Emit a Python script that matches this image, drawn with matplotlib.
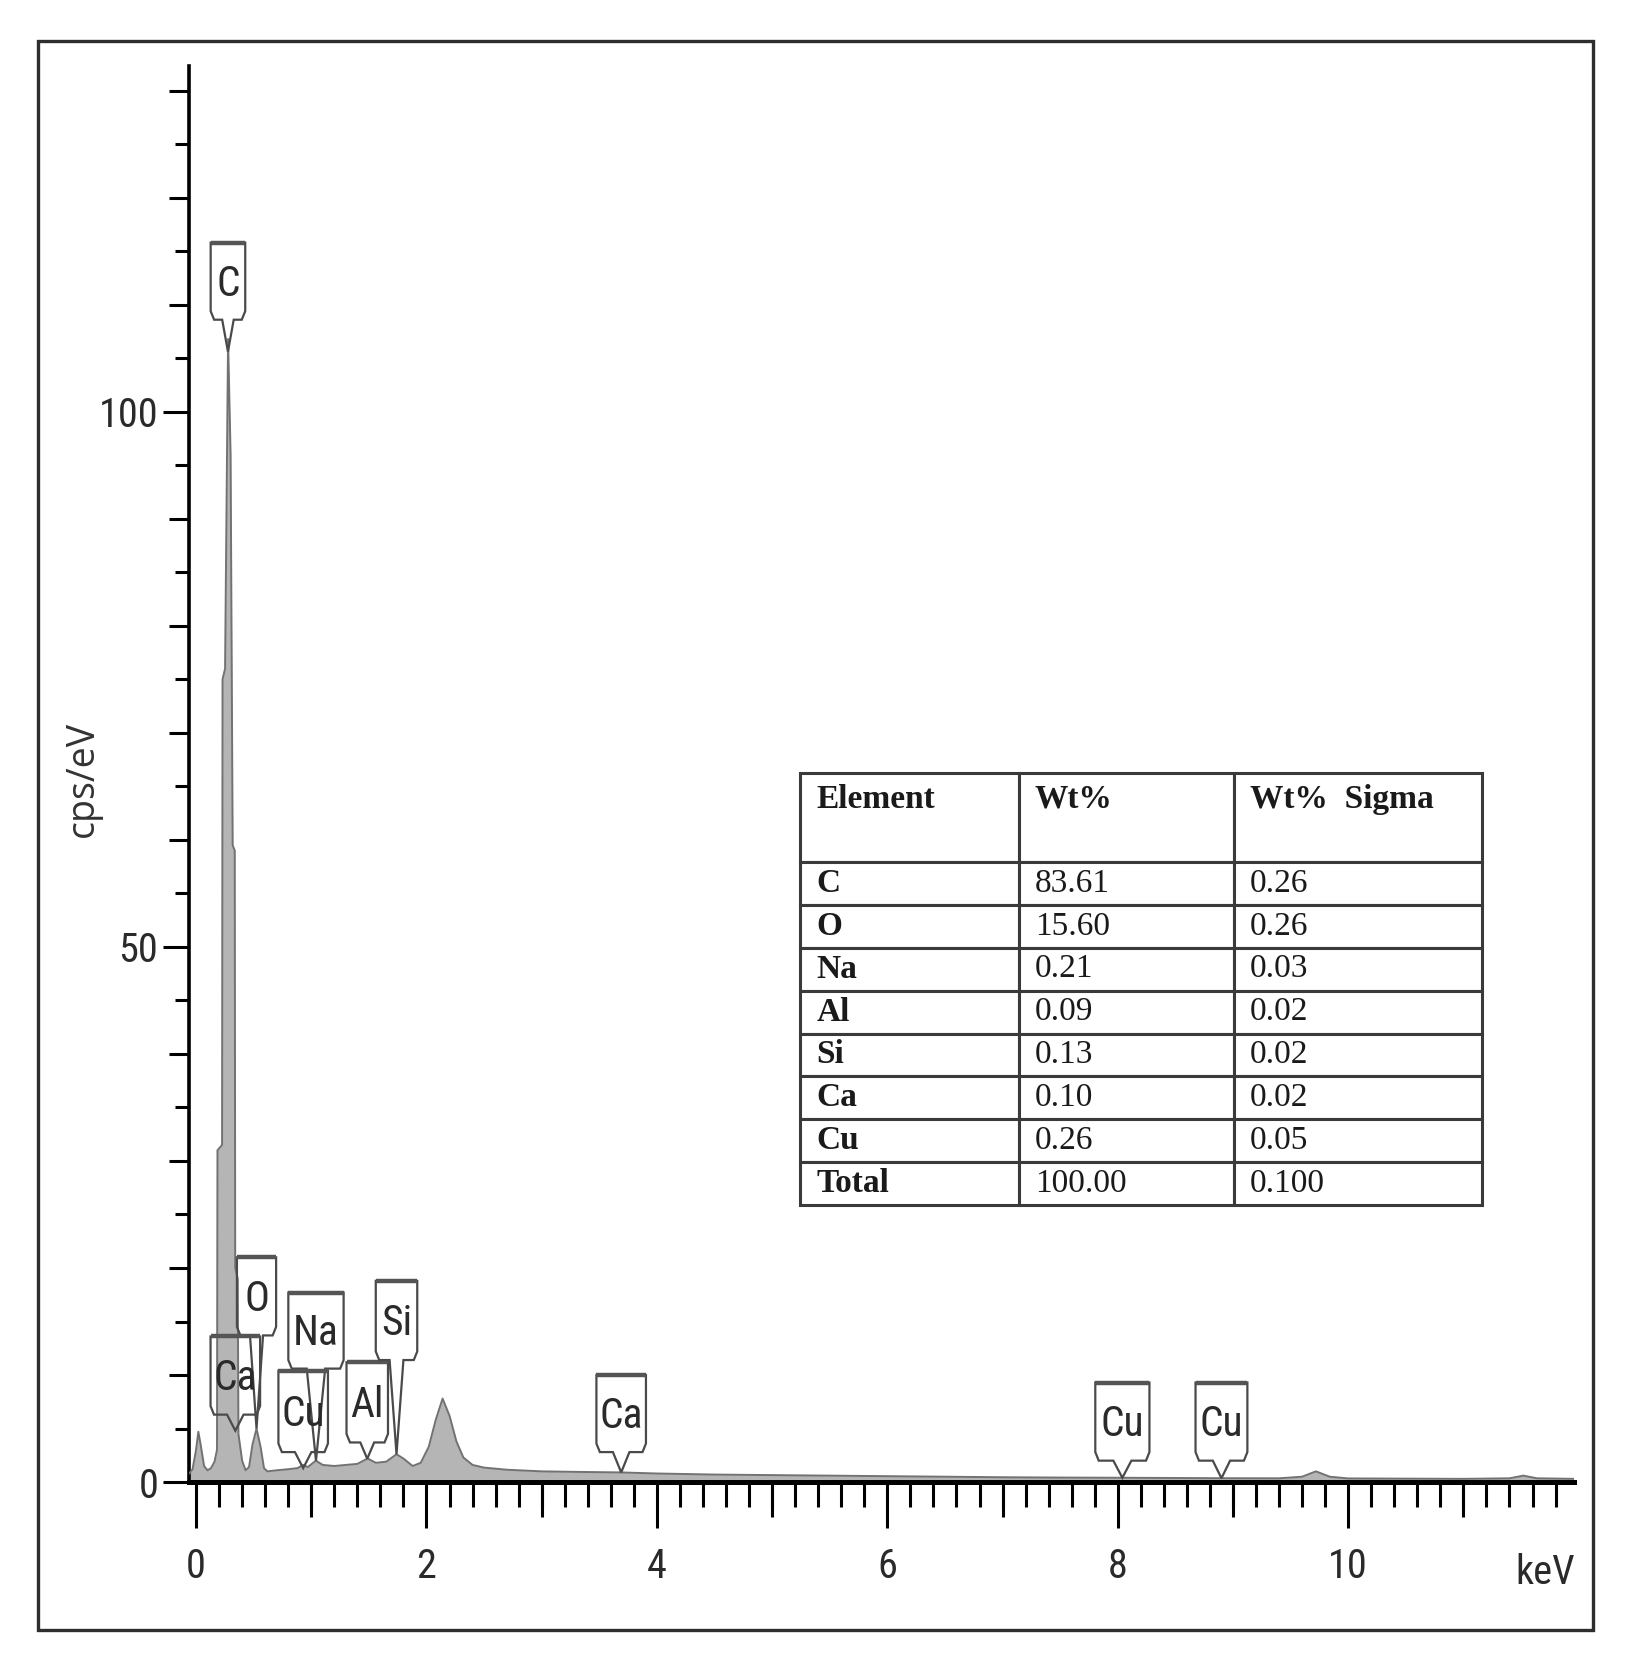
import numpy as np
import matplotlib
matplotlib.use('Agg')
import matplotlib.pyplot as plt
from matplotlib.patches import Polygon, Rectangle

# EDS spectrum (keV, cps/eV)
energy = [-0.06, -0.03, 0.00, 0.02, 0.04, 0.07, 0.10, 0.13, 0.16, 0.182,
          0.186, 0.226, 0.230, 0.252, 0.278, 0.300, 0.318, 0.336, 0.340, 0.362,
          0.368, 0.40, 0.43, 0.46, 0.49, 0.525, 0.56, 0.59, 0.62, 0.70,
          0.80, 0.88, 0.93, 0.97, 1.04, 1.10, 1.20, 1.30, 1.40, 1.49,
          1.56, 1.65, 1.74, 1.80, 1.88, 1.95, 2.02, 2.08, 2.14, 2.20,
          2.26, 2.32, 2.40, 2.50, 2.70, 3.00, 3.30, 3.69, 4.00, 4.50,
          5.00, 5.50, 6.00, 6.50, 7.00, 7.50, 8.04, 8.50, 8.90, 9.40,
          9.60, 9.72, 9.84, 10.00, 10.50, 11.00, 11.40, 11.52, 11.64, 11.96]
counts = [0.8, 1.2, 3.0, 4.7, 3.5, 1.5, 1.1, 1.3, 1.9, 3.0,
          31.0, 31.5, 75.0, 76.0, 106.8, 96.0, 59.5, 59.0, 20.0, 19.0,
          4.5, 2.0, 1.1, 1.4, 3.5, 5.0, 3.3, 1.3, 1.0, 1.1,
          1.2, 1.3, 1.6, 1.4, 2.0, 1.6, 1.5, 1.6, 1.7, 2.2,
          1.8, 1.9, 2.6, 2.2, 1.5, 1.8, 3.3, 5.8, 7.8, 6.2,
          3.8, 2.3, 1.6, 1.35, 1.15, 1.0, 0.95, 0.9, 0.8, 0.7,
          0.65, 0.6, 0.55, 0.5, 0.45, 0.42, 0.4, 0.38, 0.36, 0.35,
          0.5, 1.0, 0.5, 0.34, 0.32, 0.3, 0.35, 0.6, 0.35, 0.3]

# peak markers
peak_names = ['C', 'O', 'Ca', 'Na', 'Cu', 'Al', 'Si', 'Ca', 'Cu', 'Cu']
peak_kev = [0.277, 0.525, 0.341, 1.041, 0.930, 1.486, 1.740, 3.69, 8.04, 8.90]
# where the label boxes sit (cps/eV) and how wide they are (keV)
box_top = [115.8, 21.0, 13.6, 17.7, 10.4, 11.2, 18.8, 10.0, 9.3, 9.3]
box_bot = [108.6, 13.7, 6.3, 10.6, 2.8, 3.7, 11.4, 2.8, 2.0, 2.0]
box_w = [0.30, 0.34, 0.43, 0.48, 0.43, 0.36, 0.36, 0.43, 0.47, 0.45]

# quantification table
elements = ['C', 'O', 'Na', 'Al', 'Si', 'Ca', 'Cu', 'Total']
wt = ['83.61', '15.60', '0.21', '0.09', '0.13', '0.10', '0.26', '100.00']
wt_sigma = ['0.26', '0.26', '0.03', '0.02', '0.02', '0.02', '0.05', '0.100']

narrow = ['Liberation Sans Narrow', 'Roboto Condensed', 'DejaVu Sans Condensed', 'Roboto']

fig = plt.figure(figsize=(16.35, 16.72), dpi=100)
ax = fig.add_axes([0.1156, 0.1136, 0.8471, 0.8469])

ax.fill_between(energy, counts, 0, color='#b5b5b5', lw=0, zorder=2)
ax.plot(energy, counts, color='#727272', lw=1.4, zorder=3)

ax.set_xlim(-0.061, 11.96)
ax.set_ylim(0, 132.3)

for s in ['top', 'right']:
    ax.spines[s].set_visible(False)
ax.spines['left'].set_linewidth(2.6)
ax.spines['bottom'].set_linewidth(3.6)

# y ticks
ax.set_yticks([0, 50, 100])
ax.set_yticks(np.arange(10, 131, 10), minor=True)
ax.tick_params(axis='y', which='major', length=18.7, width=2.2, pad=3.5,
               labelsize=29, labelcolor='#2a2a2a')
ax.tick_params(axis='y', which='minor', length=14.4, width=2.2)
sy = ax.secondary_yaxis('left')
sy.set_yticks(np.arange(5, 131, 10))
sy.tick_params(length=10, width=2.2, labelleft=False)
sy.spines['left'].set_visible(False)

# x ticks
ax.set_xticks(np.arange(0, 11, 2))
ax.set_xticks(np.arange(0, 11.9, 0.2), minor=True)
ax.tick_params(axis='x', which='major', length=33, width=2.2, pad=14,
               labelsize=29, labelcolor='#2a2a2a')
ax.tick_params(axis='x', which='minor', length=18, width=2.2)
sx = ax.secondary_xaxis('bottom')
sx.set_xticks(np.arange(1, 12, 2))
sx.tick_params(length=25, width=2.2, labelbottom=False)
sx.spines['bottom'].set_visible(False)

for lab in ax.get_xticklabels() + ax.get_yticklabels():
    lab.set_fontfamily(narrow)

fig.text(1545 / 1635, 1 - 1573 / 1672, 'keV', fontsize=29, color='#2a2a2a',
         family=narrow, ha='center', va='center')
fig.text(83 / 1635, 1 - 779 / 1672, 'cps/eV', fontsize=27, color='#333333',
         family=['Open Sans', 'DejaVu Sans'], rotation=90, ha='center', va='center')

# peak label boxes with pointers
for name, e, top, bot, w in zip(peak_names, peak_kev, box_top, box_bot, box_w):
    tip = min(np.interp(e, energy, counts), bot - 1.5)
    x0, x1 = e - w / 2, e + w / 2
    nw = w / 6
    ch = 0.8
    dx = 0.03
    pts = [(x0, top), (x1, top), (x1, bot + ch), (x1 - dx, bot), (e + nw, bot),
           (e, tip), (e - nw, bot), (x0 + dx, bot), (x0, bot + ch)]
    ax.add_patch(Polygon(pts, closed=True, fill=False, edgecolor='#4a4a4a',
                         lw=1.6, zorder=4))
    ax.plot([x0, x1], [top, top], color='#555555', lw=3.2, zorder=4,
            solid_capstyle='butt')
    ax.text(e, (top + bot) / 2 - 0.3, name, fontsize=30, color='#2a2a2a',
            family=narrow, ha='center', va='center', zorder=5)

# table
cell_text = [['Element', 'Wt%', 'Wt%  Sigma']]
for el, w, s in zip(elements, wt, wt_sigma):
    cell_text.append([el, w, s])
cell_text[0] = [t + '\n' for t in cell_text[0]]

tbl = ax.table(cellText=cell_text, cellLoc='left', colWidths=[218.5, 215.5, 248],
               bbox=[0.4412, 0.1956, 0.4924, 0.3051], zorder=6)
tbl.auto_set_font_size(False)
for (r, c), cell in tbl.get_celld().items():
    cell.set_height(89 if r == 0 else 42.9)
    cell.set_edgecolor('#3a3a3a')
    cell.set_linewidth(2.2)
    cell.PAD = 0.075 if c < 2 else 0.065
    t = cell.get_text()
    t.set_fontsize(24)
    t.set_fontfamily(['Liberation Serif', 'DejaVu Serif'])
    t.set_color('#1a1a1a')
    t.set_linespacing(1.25)
    if r == 0 or c == 0:
        t.set_fontweight('bold')

# outer frame
fig.patches.append(Rectangle((38 / 1635, 1 - 1630 / 1672), (1593 - 38) / 1635,
                             (1630 - 41) / 1672, transform=fig.transFigure,
                             fill=False, edgecolor='#2e2e2e', lw=2.4))

fig.savefig('out.png', dpi=100)
